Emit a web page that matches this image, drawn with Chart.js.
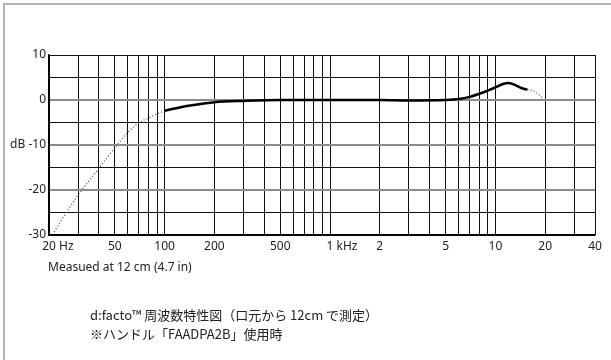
<!DOCTYPE html>
<html>
<head>
<meta charset="utf-8">
<script src="https://cdn.jsdelivr.net/npm/chart.js@4.4.1/dist/chart.umd.min.js"></script>
<style>
  html, body { margin: 0; padding: 0; background: #fff; }
  #wrap { position: relative; width: 611px; height: 360px; overflow: hidden; }
  #frame { position: absolute; left: 3px; top: 3px; right: -4px; bottom: -4px;
           border-left: 2px solid #b4b4b4; border-top: 2px solid #b4b4b4; }
  canvas { position: absolute; left: 0; top: 0; }
  .note { position: absolute; font-family: "Noto Sans", "Noto Sans CJK JP", sans-serif;
          color: #222; white-space: nowrap; line-height: 1; }
  .jp { font-family: "Noto Sans CJK JP", "Noto Sans", sans-serif; font-size: 13px; }
</style>
</head>
<body>
<div id="wrap">
  <canvas id="c" width="611" height="360"></canvas>
  <div id="frame"></div>
  <div class="note" style="left:48px; top:261px; font-size:12px;">Measued at 12 cm (4.7 in)</div>
  <div class="note jp" style="left:90px; top:308px;">d:facto™ 周波数特性図（口元から 12cm で測定）</div>
  <div class="note jp" style="left:90px; top:327px;">※ハンドル「FAADPA2B」使用時</div>
</div>
<script>
// Measured response (Hz, dB)
const responseFreq = [100, 125, 150, 200, 300, 500, 1000, 2000, 3000, 5000, 6000, 7000, 8000, 9000, 10000, 11000, 12000, 13000, 14500, 15600];
const responseDb   = [-2.4, -1.6, -1.1, -0.5, -0.2, 0.0, 0.0, 0.0, -0.1, 0.0, 0.2, 0.7, 1.4, 2.1, 2.8, 3.5, 3.8, 3.4, 2.6, 2.3];

// Extrapolated roll-off below and above the measured band
const lowFreq  = [21.5, 25.5, 30, 40, 50, 60, 70, 80, 90, 100];
const lowDb    = [-29.3, -25.0, -21.1, -15.2, -10.6, -7.2, -5.0, -4.0, -3.1, -2.4];
const highFreq = [15600, 17000, 19600];
const highDb   = [2.3, 2.0, 0.3];

// Frequency grid lines and axis labels
const gridFreqs = [20, 30, 40, 50, 60, 70, 80, 90, 100, 200, 300, 400, 500, 600, 700, 800, 900, 1000,
                   2000, 3000, 4000, 5000, 6000, 7000, 8000, 9000, 10000, 20000, 30000, 40000];
const xLabelFreqs = [20, 50, 100, 200, 500, 1000, 2000, 5000, 10000, 20000, 40000];
const xLabelNums  = ['20', '50', '100', '200', '500', '1', '2', '5', '10', '20', '40'];
const xLabelUnits = [' Hz', '', '', '', '', ' kHz', '', '', '', '', ''];

const yLabels = { '10': '10', '0': '0', '-10': 'dB -10', '-20': '-20', '-30': '-30' };

const toPts = (fs, ds) => fs.map((f, i) => ({ x: f, y: ds[i] }));

const TICK_FONT = '12px "Noto Sans", sans-serif';

// Frequency labels: the number sits centred on its grid line, the unit trails it
const freqLabels = {
  id: 'freqLabels',
  afterDraw(chart) {
    const { ctx, scales: { x, y } } = chart;
    ctx.save();
    ctx.font = TICK_FONT;
    ctx.fillStyle = '#222';
    ctx.textBaseline = 'middle';
    ctx.textAlign = 'left';
    const ty = y.bottom + 12;
    xLabelFreqs.forEach((f, i) => {
      const px = x.getPixelForValue(f);
      const w = ctx.measureText(xLabelNums[i]).width;
      ctx.fillText(xLabelNums[i] + xLabelUnits[i], px - w / 2, ty);
    });
    ctx.restore();
  }
};

const isMajor = (c) => c.tick && c.tick.value % 10 === 0 && c.tick.value > -30 && c.tick.value < 10;

new Chart(document.getElementById('c'), {
  type: 'line',
  data: {
    datasets: [
      { data: toPts(responseFreq, responseDb), borderColor: '#000', borderWidth: 2.5,
        pointRadius: 0, cubicInterpolationMode: 'monotone', fill: false },
      { data: toPts(lowFreq, lowDb), borderColor: '#444', borderWidth: 1.2, borderDash: [1, 2.2],
        pointRadius: 0, cubicInterpolationMode: 'monotone', fill: false },
      { data: toPts(highFreq, highDb), borderColor: '#444', borderWidth: 1.2, borderDash: [1, 2.2],
        pointRadius: 0, cubicInterpolationMode: 'monotone', fill: false }
    ]
  },
  options: {
    responsive: false,
    animation: false,
    events: [],
    layout: { padding: { top: 55, right: 16, left: 0, bottom: 0 } },
    plugins: { legend: { display: false }, tooltip: { enabled: false } },
    scales: {
      x: {
        type: 'logarithmic', min: 20, max: 40000,
        afterBuildTicks: (s) => { s.ticks = gridFreqs.map(v => ({ value: v })); },
        afterFit: (s) => { s.height = 125; },
        ticks: { display: false },
        grid: { color: '#111', lineWidth: 1, drawTicks: false },
        border: { color: '#000', width: 1.5 }
      },
      y: {
        min: -30, max: 10,
        afterFit: (s) => { s.width = 49; },
        ticks: {
          stepSize: 5, padding: 3, color: '#222',
          font: { family: 'Noto Sans', size: 12 },
          callback: (v) => yLabels[String(v)] || ''
        },
        grid: {
          drawTicks: false,
          color: (c) => isMajor(c) ? '#8c8c8c' : '#111',
          lineWidth: (c) => isMajor(c) ? 2 : 1
        },
        border: { color: '#000', width: 1.5 }
      }
    }
  },
  plugins: [freqLabels]
});
</script>
</body>
</html>
